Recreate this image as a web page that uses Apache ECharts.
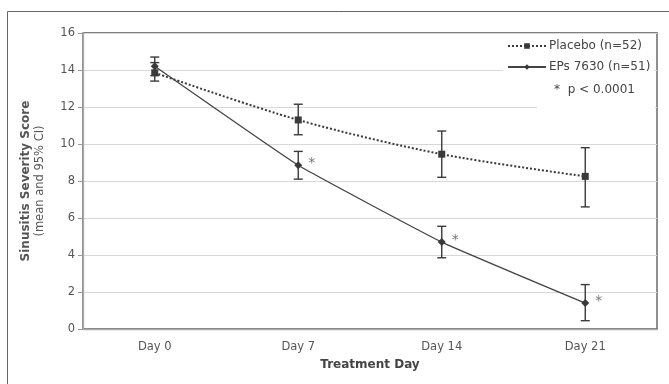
<!DOCTYPE html>
<html>
<head>
<meta charset="utf-8">
<script src="https://cdn.jsdelivr.net/npm/echarts@6/dist/echarts.min.js"></script>
<style>
  html, body { margin: 0; padding: 0; background: #fff; }
  #chart { width: 669px; height: 384px; }
</style>
</head>
<body>
<div id="chart"></div>
<script>
var days = ['Day 0', 'Day 7', 'Day 14', 'Day 21'];

var placeboMean = [13.85, 11.3, 9.45, 8.25];
var placeboLow = [13.4, 10.5, 8.2, 6.6];
var placeboHigh = [14.4, 12.15, 10.7, 9.8];

var epsMean = [14.2, 8.85, 4.7, 1.4];
var epsLow = [13.7, 8.1, 3.85, 0.45];
var epsHigh = [14.7, 9.6, 5.55, 2.4];

var starred = [false, true, true, true];

var font = 'DejaVu Sans';
var ink = '#3a3a3a';

function errorBars(low, high) {
    return low.map(function (v, i) { return [i, v, high[i]]; });
}

function renderBar(params, api) {
    var x = api.value(0);
    var lo = api.coord([x, api.value(1)]);
    var hi = api.coord([x, api.value(2)]);
    var w = 4.5;
    var style = { stroke: ink, lineWidth: 1.4 };
    return {
        type: 'group',
        children: [
            { type: 'line', shape: { x1: lo[0], y1: lo[1], x2: hi[0], y2: hi[1] }, style: style },
            { type: 'line', shape: { x1: lo[0] - w, y1: lo[1], x2: lo[0] + w, y2: lo[1] }, style: style },
            { type: 'line', shape: { x1: hi[0] - w, y1: hi[1], x2: hi[0] + w, y2: hi[1] }, style: style }
        ]
    };
}

var chart = echarts.init(document.getElementById('chart'));

chart.setOption({
    animation: false,
    textStyle: { fontFamily: font },
    grid: { left: 83, right: 12, top: 33, bottom: 55, show: true, borderColor: '#555', borderWidth: 1.3 },
    graphic: [
        { type: 'rect', shape: { x: 7.5, y: 11.5, width: 700, height: 400 }, style: { fill: 'none', stroke: '#666', lineWidth: 1 }, z: 0 },
        { type: 'rect', shape: { x: 537, y: 78, width: 118, height: 34 }, style: { fill: '#fff' }, z: 3 },
        { type: 'text', left: 554, top: 84, style: { text: '*  p < 0.0001', font: '12px "DejaVu Sans"', fill: '#444' }, z: 5 }
    ],
    legend: {
        orient: 'vertical',
        left: 503,
        top: 36,
        padding: [3, 4, 3, 4],
        backgroundColor: '#fff',
        itemWidth: 38,
        itemHeight: 7,
        itemGap: 7,
        textStyle: { fontFamily: font, fontSize: 12, color: '#444', lineHeight: 14, padding: [0, 0, 0, -2] },
        data: [
            { name: 'Placebo (n=52)', itemStyle: { color: ink } },
            { name: 'EPs 7630 (n=51)', itemStyle: { color: ink } }
        ]
    },
    xAxis: {
        type: 'category',
        data: days,
        name: 'Treatment Day',
        nameLocation: 'middle',
        nameGap: 30,
        nameTextStyle: { fontFamily: font, fontSize: 12, fontWeight: 'bold', color: '#444' },
        axisLine: { lineStyle: { color: '#aaa', width: 1.3 } },
        axisTick: { lineStyle: { color: '#999' }, length: 5 },
        axisLabel: { color: '#555', fontSize: 11.5, margin: 12 }
    },
    yAxis: {
        type: 'value',
        min: 0,
        max: 16,
        interval: 2,
        name: '{a|Sinusitis Severity Score}\n{b|(mean and 95% CI)}',
        nameLocation: 'middle',
        nameRotate: 90,
        nameGap: 36,
        nameTextStyle: {
            rich: {
                a: { fontFamily: font, fontSize: 12, fontWeight: 'bold', color: '#555', lineHeight: 14 },
                b: { fontFamily: font, fontSize: 11.5, color: '#555', lineHeight: 14 }
            }
        },
        axisLine: { show: true, lineStyle: { color: '#aaa', width: 1.3 } },
        axisTick: { show: true, length: 5, lineStyle: { color: '#999' } },
        axisLabel: { color: '#555', fontSize: 11.5, margin: 8 },
        splitLine: { lineStyle: { color: '#d8d8d8', width: 1.2 } }
    },
    series: [
        {
            name: 'Placebo (n=52)',
            type: 'line',
            data: placeboMean,
            smooth: 0.3,
            symbol: 'rect',
            symbolSize: 7,
            itemStyle: { color: ink },
            lineStyle: { color: ink, type: 'dotted', width: 2 },
            z: 3
        },
        {
            name: 'EPs 7630 (n=51)',
            type: 'line',
            data: epsMean,
            smooth: 0.1,
            symbol: 'diamond',
            symbolSize: 8,
            itemStyle: { color: ink },
            lineStyle: { color: '#444', width: 1.3 },
            label: {
                show: true,
                position: 'right',
                distance: 6,
                offset: [0, -2],
                color: '#777',
                fontSize: 14,
                formatter: function (p) { return starred[p.dataIndex] ? '*' : ''; }
            },
            z: 3
        },
        {
            type: 'custom',
            data: errorBars(placeboLow, placeboHigh),
            renderItem: renderBar,
            z: 4
        },
        {
            type: 'custom',
            data: errorBars(epsLow, epsHigh),
            renderItem: renderBar,
            z: 4
        }
    ]
});
</script>
</body>
</html>
